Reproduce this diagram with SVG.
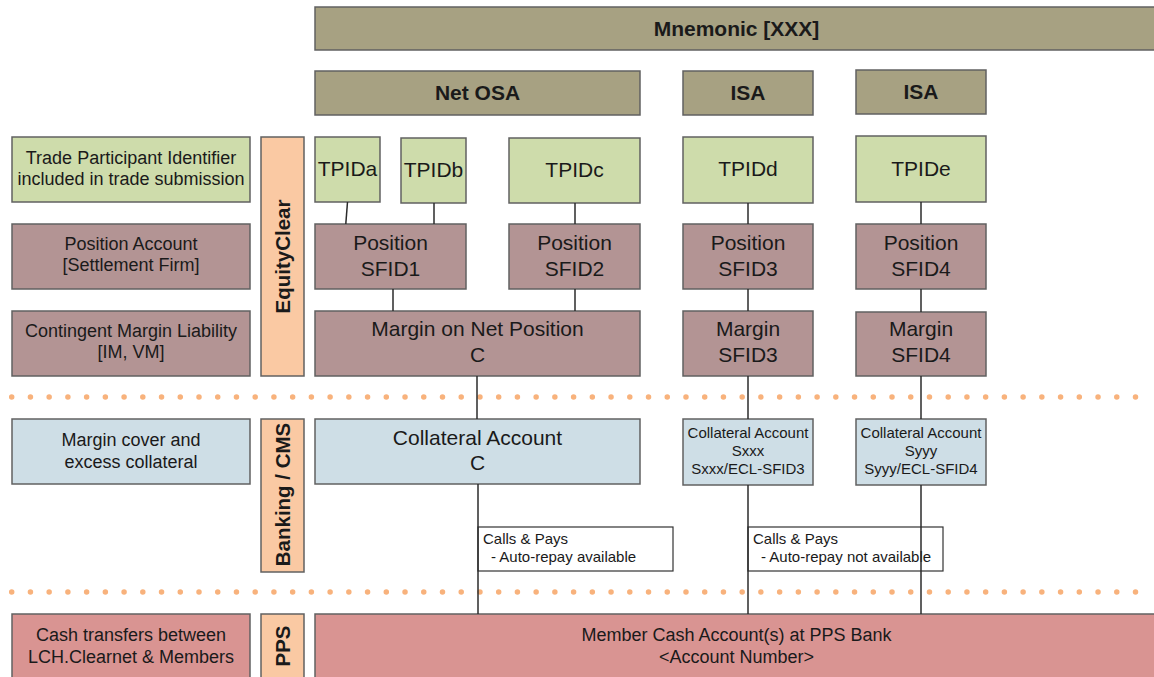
<svg xmlns="http://www.w3.org/2000/svg" width="1154" height="677" viewBox="0 0 1154 677">
<style>
text{font-family:"Liberation Sans",Arial,sans-serif;fill:#1a1a1a;text-anchor:middle}
.b{stroke:#616161;stroke-width:1.5}
.olive{fill:#A7A182}
.green{fill:#CEDCAB}
.mauve{fill:#B39494}
.blue{fill:#CEDEE6}
.bar{fill:#FAC9A3}
.pink{fill:#D99492}
.t21{font-size:21px}
.h21{font-size:21px;font-weight:bold}
.t18{font-size:18px}
.t15{font-size:15px}
.note{font-size:15px;text-anchor:start}
.v{font-size:20.5px;font-weight:bold}
.con line{stroke:#2b2b2b;stroke-width:1.5}
.dots{stroke:#F8B27C;stroke-width:5.5;stroke-linecap:round;stroke-dasharray:0 18.73}
</style>
<rect width="1154" height="677" fill="#ffffff"/>
<!-- separators -->
<line class="dots" x1="11.7" y1="397" x2="1154" y2="397"/>
<line class="dots" x1="11.7" y1="592" x2="1154" y2="592"/>

<!-- header -->
<g id="mnemonic"><rect class="b olive" x="315" y="7" width="843" height="43"/><text class="h21" x="736.5" y="35.5">Mnemonic [XXX]</text></g>
<g id="netosa"><rect class="b olive" x="315" y="71" width="325" height="44"/><text class="h21" x="477.5" y="100">Net OSA</text></g>
<g id="isa1"><rect class="b olive" x="683" y="71" width="130" height="44"/><text class="h21" x="748" y="100">ISA</text></g>
<g id="isa2"><rect class="b olive" x="856" y="70" width="130" height="44"/><text class="h21" x="921" y="99">ISA</text></g>

<!-- left legend -->
<g id="lbl-tpid"><rect class="b green" x="12" y="137" width="238" height="65"/><text class="t18" x="131" y="164">Trade Participant Identifier</text><text class="t18" x="131" y="185">included in trade submission</text></g>
<g id="lbl-pos"><rect class="b mauve" x="12" y="224" width="238" height="65"/><text class="t18" x="131" y="250">Position Account</text><text class="t18" x="131" y="271">[Settlement Firm]</text></g>
<g id="lbl-margin"><rect class="b mauve" x="12" y="311" width="238" height="65"/><text class="t18" x="131" y="336.5">Contingent Margin Liability</text><text class="t18" x="131" y="357.5">[IM, VM]</text></g>
<g id="lbl-coll"><rect class="b blue" x="12" y="419" width="238" height="65"/><text class="t18" x="131" y="445.5">Margin cover and</text><text class="t18" x="131" y="467.5">excess collateral</text></g>
<g id="lbl-cash"><rect class="b pink" x="12" y="614" width="238" height="70"/><text class="t18" x="131" y="641">Cash transfers between</text><text class="t18" x="131" y="663">LCH.Clearnet &amp; Members</text></g>

<!-- vertical bars -->
<g id="bar-ec"><rect class="b bar" x="261" y="137" width="43" height="239"/><text class="v" transform="translate(289.5,256.5) rotate(-90)">EquityClear</text></g>
<g id="bar-cms"><rect class="b bar" x="261" y="419" width="43" height="153"/><text class="v" transform="translate(289.5,494.5) rotate(-90)">Banking / CMS</text></g>
<g id="bar-pps"><rect class="b bar" x="261" y="614" width="43" height="70"/><text class="v" transform="translate(289.5,646) rotate(-90)">PPS</text></g>

<!-- TPIDs -->
<g id="tpida"><rect class="b green" x="315" y="137" width="65" height="65"/><text class="t21" x="347.5" y="176">TPIDa</text></g>
<g id="tpidb"><rect class="b green" x="401" y="138" width="65" height="65"/><text class="t21" x="433.5" y="177">TPIDb</text></g>
<g id="tpidc"><rect class="b green" x="509" y="138" width="131" height="65"/><text class="t21" x="574.5" y="177">TPIDc</text></g>
<g id="tpidd"><rect class="b green" x="683" y="137" width="130" height="66"/><text class="t21" x="748" y="176">TPIDd</text></g>
<g id="tpide"><rect class="b green" x="856" y="136" width="130" height="66"/><text class="t21" x="921" y="175.5">TPIDe</text></g>

<!-- Positions -->
<g id="pos1"><rect class="b mauve" x="315" y="224" width="151" height="65"/><text class="t21" x="390.5" y="250">Position</text><text class="t21" x="390.5" y="275.5">SFID1</text></g>
<g id="pos2"><rect class="b mauve" x="509" y="224" width="131" height="65"/><text class="t21" x="574.5" y="250">Position</text><text class="t21" x="574.5" y="275.5">SFID2</text></g>
<g id="pos3"><rect class="b mauve" x="683" y="224" width="130" height="65"/><text class="t21" x="748" y="250">Position</text><text class="t21" x="748" y="275.5">SFID3</text></g>
<g id="pos4"><rect class="b mauve" x="856" y="224" width="130" height="65"/><text class="t21" x="921" y="250">Position</text><text class="t21" x="921" y="275.5">SFID4</text></g>

<!-- Margins -->
<g id="marginnet"><rect class="b mauve" x="315" y="311" width="325" height="65"/><text class="t21" x="477.5" y="336">Margin on Net Position</text><text class="t21" x="477.5" y="361.5">C</text></g>
<g id="margin3"><rect class="b mauve" x="683" y="311" width="130" height="65"/><text class="t21" x="748" y="336">Margin</text><text class="t21" x="748" y="361.5">SFID3</text></g>
<g id="margin4"><rect class="b mauve" x="856" y="312" width="130" height="64"/><text class="t21" x="921" y="336">Margin</text><text class="t21" x="921" y="361.5">SFID4</text></g>

<!-- Collateral -->
<g id="collc"><rect class="b blue" x="315" y="419" width="325" height="65"/><text class="t21" x="477.5" y="445">Collateral Account</text><text class="t21" x="477.5" y="470">C</text></g>
<g id="coll3"><rect class="b blue" x="683" y="419" width="130" height="66"/><text class="t15" x="748" y="437.5">Collateral Account</text><text class="t15" x="748" y="455.5">Sxxx</text><text class="t15" x="748" y="474">Sxxx/ECL-SFID3</text></g>
<g id="coll4"><rect class="b blue" x="856" y="419" width="130" height="66"/><text class="t15" x="921" y="437.5">Collateral Account</text><text class="t15" x="921" y="455.5">Syyy</text><text class="t15" x="921" y="474">Syyy/ECL-SFID4</text></g>

<!-- Calls & Pays notes -->
<g id="calls1"><rect x="478" y="527" width="195" height="44" fill="#ffffff" stroke="#333" stroke-width="1.2"/><text class="note" x="483" y="544">Calls &amp; Pays</text><text class="note" x="491" y="562">- Auto-repay available</text></g>
<g id="calls2"><rect x="748" y="527" width="195" height="44" fill="#ffffff" stroke="#333" stroke-width="1.2"/><text class="note" x="753" y="544">Calls &amp; Pays</text><text class="note" x="761" y="562">- Auto-repay not available</text></g>

<!-- PPS member cash -->
<g id="membercash"><rect class="b pink" x="315" y="614" width="843" height="70"/><text class="t18" x="736.5" y="640.5">Member Cash Account(s) at PPS Bank</text><text class="t18" x="736.5" y="662.5">&lt;Account Number&gt;</text></g>

<!-- connectors -->
<g id="connectors" class="con">
<line x1="347.5" y1="202" x2="345.8" y2="224"/>
<line x1="434" y1="203" x2="434" y2="224"/>
<line x1="575" y1="203" x2="575" y2="224"/>
<line x1="748" y1="203" x2="748" y2="224"/>
<line x1="921" y1="202" x2="921" y2="224"/>
<line x1="393" y1="289" x2="393" y2="311"/>
<line x1="575" y1="289" x2="575" y2="311"/>
<line x1="748" y1="289" x2="748" y2="311"/>
<line x1="921" y1="289" x2="921" y2="312"/>
<line x1="477" y1="376" x2="477" y2="419"/>
<line x1="748" y1="376" x2="748" y2="419"/>
<line x1="921" y1="376" x2="921" y2="419"/>
<line x1="478" y1="484" x2="478" y2="614"/>
<line x1="748" y1="485" x2="748" y2="614"/>
<line x1="921" y1="485" x2="921" y2="614"/>
</g>
</svg>
